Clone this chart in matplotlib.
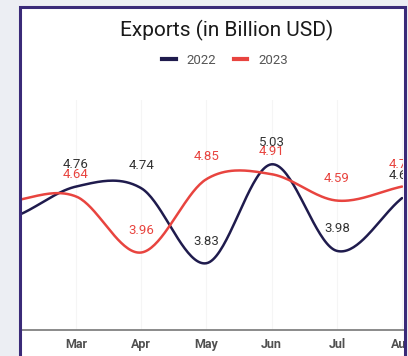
import numpy as np
import matplotlib
matplotlib.use("Agg")
import matplotlib.pyplot as plt
from matplotlib.patches import Rectangle
from matplotlib.lines import Line2D

plt.rcParams['font.family'] = ['Roboto', 'DejaVu Sans']

months = ["Jan", "Feb", "Mar", "Apr", "May", "Jun", "Jul", "Aug"]
exports_2022 = [4.30, 4.38, 4.76, 4.74, 3.83, 5.03, 3.98, 4.62]
exports_2023 = [4.40, 4.58, 4.64, 3.96, 4.85, 4.91, 4.59, 4.76]
labels_2022 = ["", "", "4.76", "4.74", "3.83", "5.03", "3.98", "4.62"]
labels_2023 = ["", "", "4.64", "3.96", "4.85", "4.91", "4.59", "4.76"]

c2022 = "#1f1b4d"
c2023 = "#e8443f"
W, H = 408, 356


def fx(px):
    return px / W


def fy(py):
    return 1 - py / H


def smooth(y, n=40):
    # catmull-rom style cubic hermite through every point
    y = np.asarray(y, float)
    m = np.gradient(y)
    xs, ys = [], []
    for i in range(len(y) - 1):
        t = np.linspace(0, 1, n)
        h00 = 2 * t**3 - 3 * t**2 + 1
        h10 = t**3 - 2 * t**2 + t
        h01 = -2 * t**3 + 3 * t**2
        h11 = t**3 - t**2
        xs.append(i + t)
        ys.append(h00 * y[i] + h10 * m[i] + h01 * y[i + 1] + h11 * m[i + 1])
    return np.concatenate(xs), np.concatenate(ys)


fig = plt.figure(figsize=(W / 100, H / 100), dpi=100, facecolor="#eceef3")

# white card behind the chart
card = Rectangle((fx(20), 0), fx(404) - fx(20), fy(7), transform=fig.transFigure,
                 facecolor="white", edgecolor="none", zorder=-2)
fig.patches.append(card)

ax = fig.add_axes([fx(21), fy(330), fx(403) - fx(21), (330 - 100) / H])
ax.patch.set_alpha(0)
x = np.arange(len(months))

for vals, col in [(exports_2022, c2022), (exports_2023, c2023)]:
    sx, sy = smooth(vals)
    ax.plot(sx, sy, color=col, lw=1.8, solid_capstyle="round")

for i in range(2, len(months)):
    ax.annotate(labels_2022[i], (x[i], exports_2022[i]), xytext=(0, 16),
                textcoords="offset points", ha="center", va="center",
                fontsize=9.5, color="#333333", clip_on=True)
    ax.annotate(labels_2023[i], (x[i], exports_2023[i]), xytext=(0, 16),
                textcoords="offset points", ha="center", va="center",
                fontsize=9.5, color=c2023, clip_on=True)

ax.set_xlim(1.156, 7.015)
ax.set_ylim(3.02, 5.81)
ax.set_xticks(x[2:])
ax.set_xticklabels(months[2:], fontsize=9, fontweight="bold", color="#505050")
ax.tick_params(axis="x", length=0, pad=6)
ax.set_yticks([])
ax.xaxis.grid(True, color="#f5f5f5", lw=0.8)
for s in ["top", "left", "right"]:
    ax.spines[s].set_visible(False)
ax.spines["bottom"].set_color("#8a8a8a")
ax.spines["bottom"].set_linewidth(1.4)

fig.text(fx(227), fy(30), "Exports (in Billion USD)", ha="center", va="center",
         fontsize=15, color="#1a1a1a")

handles = [Line2D([], [], color=c2022, lw=3), Line2D([], [], color=c2023, lw=3)]
fig.legend(handles, ["2022", "2023"], loc="center", bbox_to_anchor=(fx(225), fy(60)),
           ncol=2, frameon=False, fontsize=9.5, handlelength=1.0,
           handletextpad=0.8, columnspacing=1.4, labelcolor="#555555")

# cover anything spilling past the right edge, then the card border
cover = Rectangle((fx(404), 0), 1 - fx(404), 1, transform=fig.transFigure,
                  facecolor="#eceef3", edgecolor="none", zorder=10)
fig.patches.append(cover)
border = Rectangle((fx(19.5), -0.05), fx(404.5) - fx(19.5), fy(7) + 0.05,
                   transform=fig.transFigure, facecolor="none",
                   edgecolor="#3a2a78", lw=2.2, zorder=11)
fig.patches.append(border)

fig.savefig("out.png", dpi=100, facecolor=fig.get_facecolor())
